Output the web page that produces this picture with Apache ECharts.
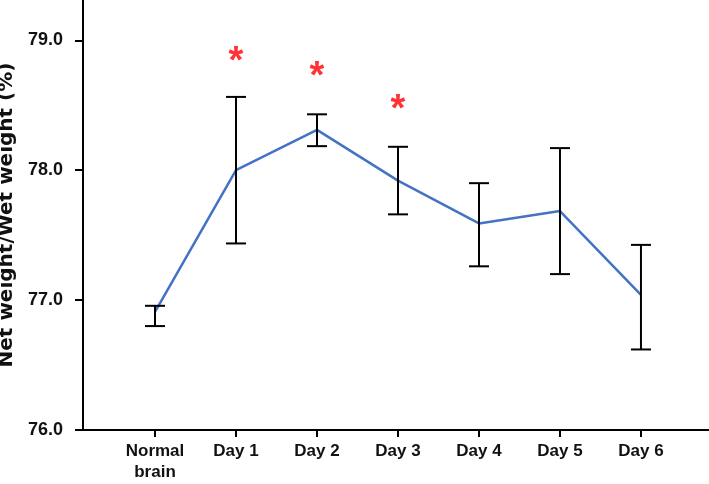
<!DOCTYPE html>
<html><head><meta charset="utf-8">
<script src="https://cdn.jsdelivr.net/npm/echarts@6/dist/echarts.min.js"></script>
<style>html,body{margin:0;padding:0;background:#fff}#c{width:709px;height:484px}</style>
</head><body><div id="c"></div>
<script>
const categories = ['Normal\nbrain', 'Day 1', 'Day 2', 'Day 3', 'Day 4', 'Day 5', 'Day 6'];
const means = [76.91, 78.00, 78.31, 77.92, 77.59, 77.685, 77.04];
const upper = [76.956, 78.564, 78.43, 78.18, 77.90, 78.17, 77.425];
const lower = [76.80, 77.436, 78.185, 77.66, 77.26, 77.20, 76.62];
const starIdx = [1, 2, 3];
const starY = [78.885, 78.77, 78.515];
const yTicks = [76, 77, 78, 79];

const chart = echarts.init(document.getElementById('c'));
const font = 'Liberation Sans, Arial, sans-serif';
chart.setOption({
  animation: false,
  grid: { left: 83, right: 0, top: 0, bottom: 54, outerBoundsMode: 'none', containLabel: false },
  xAxis: {
    type: 'value', min: -0.889, max: 6.84,
    axisLine: { onZero: false, lineStyle: { color: '#000', width: 2 } },
    axisTick: { customValues: [0,1,2,3,4,5,6], length: 7, lineStyle: { color: '#000', width: 2 } },
    axisLabel: {
      customValues: [0,1,2,3,4,5,6],
      formatter: v => categories[Math.round(v)],
      fontFamily: font, fontWeight: 'bold', fontSize: 17, color: '#111', margin: 11, lineHeight: 21
    },
    splitLine: { show: false }
  },
  yAxis: {
    type: 'value', min: 76, max: 79.31,
    name: 'Net weight/Wet weight (%)', nameLocation: 'middle', nameGap: 53,
    nameTextStyle: { fontFamily: 'DejaVu Sans, sans-serif', fontWeight: 'bold', fontSize: 20, color: '#111' },
    axisLine: { show: true, onZero: false, lineStyle: { color: '#000', width: 2 } },
    axisTick: { show: true, customValues: yTicks, length: 8, lineStyle: { color: '#000', width: 2 } },
    axisLabel: { customValues: yTicks, formatter: v => v.toFixed(1), fontFamily: font, fontWeight: 'bold', fontSize: 18, color: '#111', margin: 20 },
    splitLine: { show: false }
  },
  series: [
    {
      type: 'line', data: means.map((m, i) => [i, m]), symbol: 'none',
      lineStyle: { color: '#4472C4', width: 2.5 }, z: 2
    },
    {
      type: 'custom', z: 3,
      data: means.map((m, i) => [i, lower[i], upper[i]]),
      renderItem: (params, api) => {
        const x = api.value(0);
        const lo = api.coord([x, api.value(1)]);
        const hi = api.coord([x, api.value(2)]);
        const hw = 10;
        const st = { stroke: '#000', lineWidth: 2 };
        return { type: 'group', children: [
          { type: 'line', shape: { x1: lo[0], y1: lo[1], x2: hi[0], y2: hi[1] }, style: st },
          { type: 'line', shape: { x1: lo[0]-hw, y1: lo[1], x2: lo[0]+hw, y2: lo[1] }, style: st },
          { type: 'line', shape: { x1: hi[0]-hw, y1: hi[1], x2: hi[0]+hw, y2: hi[1] }, style: st }
        ]};
      }
    },
    {
      type: 'scatter', symbolSize: 0,
      data: starIdx.map((d, i) => [d, starY[i]]),
      label: { show: true, position: 'inside', formatter: '*', fontFamily: font, fontWeight: 'bold', fontSize: 38, color: '#ff0000', offset: [0, 7] }
    }
  ]
});
</script></body></html>
